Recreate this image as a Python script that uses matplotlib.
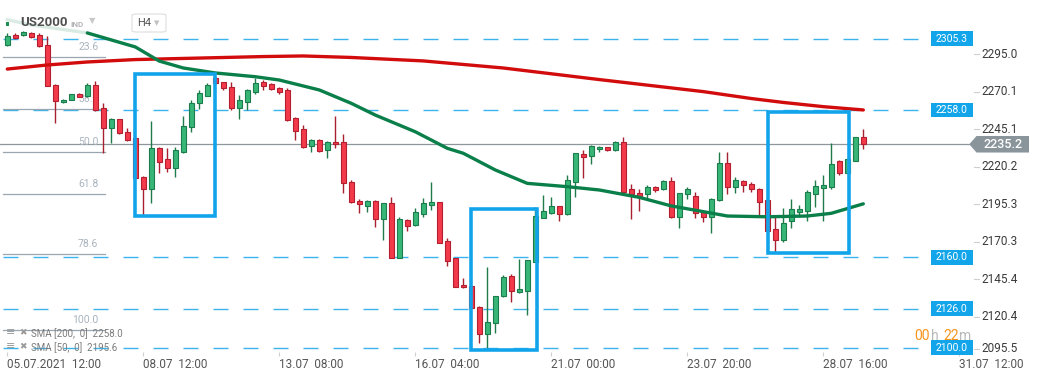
import matplotlib
matplotlib.use("Agg")
import matplotlib.pyplot as plt
import matplotlib.transforms as mtransforms
from matplotlib.patches import Rectangle, Polygon, FancyBboxPatch
import numpy as np

plt.rcParams['font.family'] = ['Roboto', 'DejaVu Sans']

# ---------------- data (US2000, H4) ----------------
opens = [2301.2, 2308.0, 2308.0, 2309.4, 2307.6, 2301.2, 2274.6, 2263.3, 2264.6, 2268.6,
         2267.3, 2274.6, 2259.1, 2245.8, 2252.0, 2243.1, 2239.2, 2213.6, 2205.3, 2232.5,
         2225.2, 2219.2, 2230.3, 2246.5, 2262.4, 2267.5, 2279.0, 2276.4, 2273.5, 2259.1,
         2263.5, 2270.1, 2276.8, 2275.3, 2272.4, 2271.3, 2252.5, 2245.1, 2234.0, 2237.8,
         2231.2, 2236.5, 2236.5, 2209.9, 2197.5, 2194.4, 2197.5, 2185.3, 2196.0, 2159.4,
         2184.8, 2181.3, 2189.0, 2195.0, 2196.6, 2170.9, 2159.4, 2141.6, 2141.2, 2126.8,
         2108.9, 2116.2, 2134.5, 2147.6, 2137.2, 2137.8, 2157.1, 2186.4, 2189.3, 2194.2,
         2188.6, 2210.3, 2228.7, 2227.6, 2231.8, 2233.2, 2231.6, 2236.5, 2205.5, 2202.8,
         2202.3, 2206.6, 2205.5, 2210.8, 2187.0, 2201.9, 2200.8, 2190.4, 2186.8, 2197.9,
         2222.5, 2206.6, 2210.8, 2208.6, 2205.3, 2198.1, 2178.7, 2171.5, 2184.0, 2190.4,
         2191.0, 2202.3, 2206.3, 2207.0, 2223.9, 2216.3, 2224.3, 2239.8]
highs = [2309.2, 2309.2, 2310.5, 2309.8, 2309.2, 2307.2, 2275.3, 2265.3, 2268.9, 2269.5,
         2276.1, 2277.3, 2262.8, 2252.9, 2252.3, 2245.8, 2239.4, 2214.1, 2250.7, 2233.6,
         2232.5, 2233.6, 2254.2, 2264.6, 2271.3, 2275.7, 2281.2, 2276.8, 2276.4, 2267.9,
         2271.7, 2279.0, 2277.9, 2275.7, 2273.5, 2272.4, 2253.5, 2248.0, 2238.5, 2238.5,
         2237.6, 2254.0, 2242.0, 2211.4, 2198.6, 2198.1, 2198.1, 2196.2, 2200.3, 2187.0,
         2185.7, 2193.0, 2199.7, 2210.3, 2196.8, 2172.7, 2159.8, 2146.1, 2141.6, 2127.7,
         2153.8, 2134.3, 2148.3, 2148.9, 2158.7, 2158.3, 2193.3, 2201.5, 2199.9, 2194.4,
         2214.8, 2229.4, 2231.4, 2234.7, 2234.0, 2233.6, 2237.2, 2240.2, 2208.8, 2205.5,
         2207.9, 2207.5, 2211.4, 2213.2, 2202.8, 2207.0, 2203.3, 2190.8, 2199.3, 2230.3,
         2229.9, 2213.2, 2211.4, 2210.1, 2205.9, 2198.8, 2186.6, 2193.0, 2198.6, 2194.8,
         2204.8, 2211.4, 2214.8, 2235.8, 2224.7, 2225.4, 2240.0, 2245.1]
lows = [2300.5, 2305.2, 2307.5, 2305.8, 2299.9, 2273.6, 2249.5, 2262.3, 2264.3, 2266.4,
        2266.8, 2257.5, 2229.2, 2235.8, 2242.0, 2237.6, 2212.4, 2188.2, 2196.0, 2216.3,
        2217.0, 2213.6, 2229.6, 2243.5, 2258.4, 2267.3, 2275.1, 2271.3, 2258.0, 2252.0,
        2258.0, 2268.6, 2271.3, 2271.3, 2268.6, 2250.9, 2238.0, 2232.5, 2230.3, 2230.3,
        2225.9, 2232.5, 2202.6, 2196.0, 2189.3, 2190.4, 2180.0, 2171.5, 2159.3, 2159.3,
        2177.7, 2181.1, 2187.0, 2191.3, 2169.4, 2154.3, 2140.1, 2139.8, 2125.9, 2103.3,
        2099.5, 2109.5, 2133.9, 2130.5, 2136.5, 2121.7, 2156.9, 2186.2, 2188.8, 2184.2,
        2188.4, 2200.3, 2213.0, 2222.1, 2230.3, 2230.9, 2230.9, 2203.5, 2185.7, 2191.0,
        2199.3, 2203.7, 2204.8, 2186.4, 2179.3, 2198.8, 2186.4, 2183.7, 2176.0, 2197.7,
        2201.9, 2203.0, 2203.7, 2203.7, 2188.2, 2177.5, 2163.8, 2170.4, 2179.3, 2187.0,
        2184.4, 2193.7, 2184.4, 2205.3, 2214.8, 2216.1, 2224.1, 2232.0]
closes = [2307.2, 2305.6, 2309.8, 2306.3, 2300.5, 2274.1, 2264.0, 2264.6, 2268.6, 2266.8,
          2274.6, 2258.0, 2245.8, 2252.0, 2242.5, 2238.0, 2212.6, 2205.3, 2232.5, 2223.6,
          2219.2, 2231.4, 2247.3, 2262.4, 2269.1, 2274.6, 2275.7, 2272.8, 2259.1, 2264.6,
          2271.3, 2276.1, 2273.9, 2271.7, 2270.1, 2251.3, 2244.2, 2233.6, 2238.0, 2230.9,
          2236.5, 2235.2, 2209.2, 2197.0, 2195.3, 2197.5, 2185.3, 2196.0, 2159.4, 2185.3,
          2181.1, 2190.0, 2196.0, 2196.6, 2169.8, 2157.8, 2140.5, 2140.1, 2126.1, 2108.9,
          2116.8, 2134.3, 2147.2, 2137.8, 2138.8, 2158.3, 2187.5, 2190.8, 2194.2, 2188.6,
          2211.4, 2229.2, 2226.9, 2234.0, 2233.2, 2231.6, 2236.5, 2203.7, 2202.1, 2200.8,
          2206.6, 2205.0, 2210.8, 2186.8, 2202.6, 2205.3, 2189.7, 2186.8, 2198.6, 2222.5,
          2206.6, 2211.2, 2207.9, 2205.3, 2197.0, 2177.7, 2171.5, 2182.6, 2192.0, 2192.0,
          2203.5, 2207.5, 2207.9, 2222.1, 2216.3, 2225.2, 2239.8, 2235.2]

# SMA values read at selected candles
sma50_idx = [0, 3, 10, 16, 19, 22, 26, 31, 34, 39, 43, 46, 51, 55, 57, 61, 65, 70, 74,
             79, 83, 87, 90, 95, 100, 103, 107]
sma50_val = [2318.0, 2314.5, 2309.2, 2299.9, 2290.5, 2285.9, 2282.6, 2280.1, 2277.9,
             2271.3, 2262.4, 2254.6, 2243.5, 2232.5, 2229.2, 2218.1, 2209.2, 2207.0,
             2204.8, 2199.9, 2194.2, 2190.4, 2187.5, 2187.0, 2187.5, 2189.3, 2195.6]
sma200_idx = [0, 5, 10, 16, 24, 32, 37, 43, 52, 62, 74, 87, 93, 97, 102, 107]
sma200_val = [2285.2, 2287.9, 2289.9, 2291.5, 2292.5, 2293.5, 2293.9, 2292.9, 2290.6,
              2285.9, 2278.2, 2270.2, 2265.6, 2263.0, 2260.2, 2258.0]

support_levels = [2305.3, 2258.0, 2160.0, 2126.0, 2100.0]
fib_ratios = ["23.6", "38.2", "50.0", "61.8", "78.6", "100.0"]
fib_prices = [2293.0, 2258.4, 2229.8, 2202.1, 2162.0, 2111.7]

# highlighted zones: (first candle, last candle, low, high)
boxes = [(16, 26, 2187.5, 2281.9), (58, 66.2, 2098.4, 2192.4), (95.1, 105.2, 2162.7, 2256.8)]

ytick_vals = [2295.0, 2270.1, 2245.1, 2220.2, 2195.3, 2170.3, 2145.4, 2120.4, 2095.5]
xtick_idx = [0, 17, 34, 51, 68, 85, 102, 119]
xtick_lbl = ["05.07.2021  12:00", "08.07  12:00", "13.07  08:00", "16.07  04:00",
             "21.07  00:00", "23.07  20:00", "28.07  16:00", "31.07  12:00"]
last_price = 2235.2
sma200_last = 2258.0
sma50_last = 2195.6

# ---------------- figure ----------------
W, H = 1041, 380
fig = plt.figure(figsize=(W / 100, H / 100), dpi=100)
ax = fig.add_axes([0, 1 - 352 / H, 973 / W, 352 / H])
ax.set_xlim(-0.9125, 120.71)
ax.set_ylim(2097.1, 2331.1)
for s in ax.spines.values():
    s.set_visible(False)

def fx(px):
    return px / W

def fy(py):
    return 1 - py / H

o = np.array(opens); c = np.array(closes); hi = np.array(highs); lo = np.array(lows)
idx = np.arange(len(o))
up = c >= o
dn = ~up
body_lo = np.minimum(o, c)
body_h = np.maximum(np.abs(c - o), 0.9)

# support lines (dashed)
for lv in support_levels:
    ax.plot([-0.6, 114.2], [lv, lv], color='#3db3ec', lw=1.0,
            dashes=(10.8, 10.8), zorder=1)

# price line
ax.axhline(last_price, color='#8c969b', lw=0.9, zorder=1.5)

# fibonacci
for r, p in zip(fib_ratios, fib_prices):
    ax.plot([0.003, 0.108], [p, p], transform=ax.get_yaxis_transform(),
            color='#9aa6b0', lw=0.9, zorder=1.5)
    ax.text(0.101, p + 3.6, r, transform=ax.get_yaxis_transform(), ha='right',
            va='bottom', fontsize=7.5, color='#a9b4be', zorder=2)

# candles
ax.vlines(idx[up], lo[up], hi[up], color='#1f7a4c', lw=1.0, zorder=3)
ax.vlines(idx[dn], lo[dn], hi[dn], color='#a8202f', lw=1.0, zorder=3)
ax.bar(idx[up], body_h[up], bottom=body_lo[up], width=0.62, color='#38b678',
       edgecolor='#1b7d4b', linewidth=0.8, zorder=4)
ax.bar(idx[dn], body_h[dn], bottom=body_lo[dn], width=0.62, color='#f23a4b',
       edgecolor='#b31f2f', linewidth=0.8, zorder=4)

# SMA lines
ax.plot(sma200_idx, sma200_val, color='#d20c0c', lw=2.4, zorder=5,
        solid_capstyle='round', solid_joinstyle='round')
i50 = np.array(sma50_idx); v50 = np.array(sma50_val)
m = i50 <= 10
ax.plot(i50[m], v50[m], color='#0a7f4a', lw=2.4, zorder=5, alpha=0.15)
ax.plot(i50[~m | (i50 == 10)], v50[~m | (i50 == 10)], color='#0a7f4a', lw=2.4,
        zorder=5, solid_capstyle='round', solid_joinstyle='round')

# boxes
for x0, x1, y0, y1 in boxes:
    ax.add_patch(Rectangle((x0, y0), x1 - x0, y1 - y0, fill=False,
                           edgecolor='#12a4eb', lw=2.6, zorder=6))

# right y-axis labels
ymin = ax.get_ylim()[0]
ytr = ax.get_yaxis_transform()
for v in ytick_vals:
    yy = max(v, ymin + 2.3)
    ax.plot([1.0 + 1 / 973, 1.0 + 5.5 / 973], [yy, yy], transform=ytr,
            color='#cfcfcf', lw=0.8, clip_on=False)
    ax.text(1.0 + 8 / 973, yy, f"{v:.1f}", transform=ytr, ha='left', va='center',
            fontsize=8.5, color='#3a3a3a', clip_on=False)

# support level labels
for lv in support_levels:
    hh = 9.8
    ax.add_patch(Rectangle((931 / 973, lv - hh / 2), 41.7 / 973, hh, transform=ytr,
                           facecolor='#13a5ea', edgecolor='none', clip_on=False, zorder=7))
    ax.text(951.8 / 973, lv, f"{lv:.1f}", transform=ytr, ha='center', va='center',
            fontsize=7.5, color='white', zorder=8, clip_on=False)

# current price label
btr = mtransforms.blended_transform_factory(fig.transFigure, ax.transData)
hh = 5.5
poly = Polygon([(fx(969.3), last_price), (fx(976.5), last_price + hh),
                (fx(1029), last_price + hh), (fx(1029), last_price - hh),
                (fx(976.5), last_price - hh)], closed=True, transform=btr,
               facecolor='#8a959b', edgecolor='none', clip_on=False, zorder=8)
ax.add_patch(poly)
ax.text(fx(1003), last_price, f"{last_price:.1f}", transform=btr, ha='center',
        va='center', fontsize=9, color='white', fontweight='medium', zorder=9,
        clip_on=False)

# x-axis labels
ax.set_xticks(xtick_idx)
ax.set_xticklabels(xtick_lbl, fontsize=8.5, color='#555555')
for t in ax.get_xticklabels():
    t.set_ha('left')
ax.tick_params(axis='x', length=3, width=0.8, color='#d0d0d0', pad=1.5)
ax.set_yticks([])

# countdown
fig.text(fx(914), fy(335.5), "00", fontsize=10, color='#f7941d', ha='left', va='center')
fig.text(fx(930.5), fy(335.5), "h", fontsize=10, color='#b9b9b9', ha='left', va='center')
fig.text(fx(943), fy(335.5), "22", fontsize=10, color='#f7941d', ha='left', va='center')
fig.text(fx(959.5), fy(335.5), "m", fontsize=10, color='#b9b9b9', ha='left', va='center')

# legend of indicators
for py, lbl in [(333.3, f"SMA [200,  0]  {sma200_last:.1f}"),
                (347.3, f"SMA [50,  0]  {sma50_last:.1f}")]:
    fig.text(fx(6), fy(py - 1), "\u2261", fontsize=8, color='#9a9a9a', ha='left', va='center')
    fig.text(fx(19), fy(py - 1), "\u2716", fontsize=6.5, color='#9a9a9a', ha='left', va='center')
    fig.text(fx(31), fy(py), lbl, fontsize=7, color='#7b7b7b', ha='left', va='center')

# title area
fig.patches.append(Rectangle((fx(5.5), fy(25.5)), 3 / W, 3 / H, transform=fig.transFigure,
                             facecolor='#1d8f55', edgecolor='none'))
fig.text(fx(20), fy(23), "US2000", fontsize=9.5, fontweight='bold', color='#505050',
         ha='left', va='center')
fig.text(fx(70), fy(24.5), "IND", fontsize=5.8, fontweight='bold', color='#b4b4b4',
         ha='left', va='center')
fig.text(fx(89), fy(21), "\u25BC", fontsize=6, color='#c8c8c8', ha='left', va='center')
fig.patches.append(FancyBboxPatch((fx(132), fy(32)), 34 / W, 18 / H,
                                  boxstyle='round,pad=0,rounding_size=0.004',
                                  transform=fig.transFigure, facecolor='white',
                                  edgecolor='#dddddd', lw=0.8))
fig.text(fx(137), fy(23.5), "H4", fontsize=8, color='#555555', ha='left', va='center')
fig.text(fx(154), fy(24), "\u25BC", fontsize=5, color='#c0c0c0', ha='left', va='center')

fig.savefig("out.png", dpi=100)
